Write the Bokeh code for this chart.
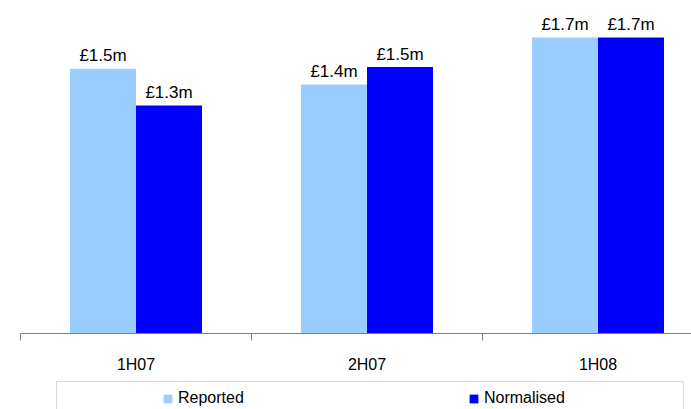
from bokeh.plotting import figure
from bokeh.models import (Range1d, LinearAxis, FixedTicker, Legend, LegendItem,
                          BoxAnnotation, ColumnDataSource)
from bokeh.core.properties import value
from bokeh.embed import file_html
from bokeh.resources import INLINE
import numpy as np

# Half-year periods and the two cost series (£m)
periods = ["1H07", "2H07", "1H08"]
reported = [1.52, 1.43, 1.70]
normalised = [1.31, 1.53, 1.70]
series_names = ["Reported", "Normalised"]

W, H = 691, 409
FONT = "Liberation Sans"

# pixel layout helpers (frame fills the whole canvas)
x0_px, cat_px = 20.0, 231.0
base_px, top_val_px, top_val = 333.0, 37.0, 1.70
ppu = (base_px - top_val_px) / top_val

def px_x(px):
    return (px - x0_px) / cat_px

def px_y(py):
    return (base_px - py) / ppu

p = figure(width=W, height=H, output_backend="svg", toolbar_location=None,
           x_range=Range1d(px_x(0), px_x(W)), y_range=Range1d(px_y(H), px_y(0)),
           min_border=0, min_border_left=0, min_border_right=0,
           min_border_top=0, min_border_bottom=0)
p.axis.visible = False
p.grid.visible = False
p.outline_line_color = None
p.background_fill_color = "white"
p.border_fill_color = "white"

centers = np.arange(len(periods)) + 0.5
bar_w = 66.0 / cat_px

src = ColumnDataSource(dict(
    xr=centers - bar_w / 2, xn=centers + bar_w / 2,
    rep=reported, norm=normalised,
    rep_lbl=["£%.1fm" % v for v in reported],
    norm_lbl=["£%.1fm" % v for v in normalised],
))

r1 = p.vbar(x="xr", top="rep", bottom=0, width=bar_w, source=src,
            fill_color="#99CCFF", line_color=None)
r2 = p.vbar(x="xn", top="norm", bottom=0, width=bar_w, source=src,
            fill_color="#0000FF", line_color=None)

for xcol, ycol, tcol in (("xr", "rep", "rep_lbl"), ("xn", "norm", "norm_lbl")):
    p.text(x=xcol, y=ycol, text=tcol, source=src, text_align="center",
           text_baseline="alphabetic", y_offset=-13,
           text_font=value(FONT), text_font_size="17px", text_color="black")

# category axis: labels at the centres, boundary ticks as minor ticks
ax = LinearAxis(fixed_location=0,
                ticker=FixedTicker(ticks=list(centers), minor_ticks=[0, 1, 2, 3]),
                bounds=(0, 3),
                major_label_overrides={float(c): s for c, s in zip(centers, periods)},
                axis_line_color="#7F7F7F", axis_line_width=1,
                major_tick_line_color=None,
                minor_tick_line_color="#7F7F7F", minor_tick_in=0, minor_tick_out=7,
                major_label_standoff=15,
                major_label_text_font=FONT, major_label_text_font_size="16px",
                major_label_text_color="black")
p.add_layout(ax, "below")

# legend frame
p.add_layout(BoxAnnotation(left=px_x(56), right=px_x(683), top=px_y(381), bottom=px_y(420),
                           fill_color=None, line_color="#7F7F7F", line_width=1))

legend = Legend(items=[LegendItem(label=series_names[0], renderers=[r1]),
                       LegendItem(label=series_names[1], renderers=[r2])],
                orientation="horizontal", location=(162, 2),
                glyph_width=11, glyph_height=11, label_standoff=5,
                label_width=290, label_height=16, spacing=0, padding=6, margin=0,
                label_text_font=FONT, label_text_font_size="16px",
                label_text_color="black", border_line_color=None,
                background_fill_alpha=0)
p.add_layout(legend, "center")

open("out.html", "w").write(file_html(p, INLINE))
